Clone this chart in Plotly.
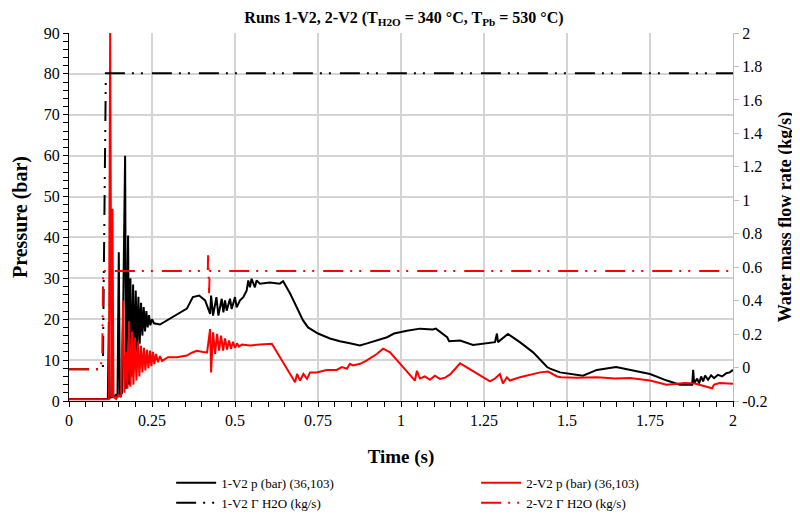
import plotly.graph_objects as go

# ---- Run 1-V2 pressure (bar) ----
t_p1 = [0.000, 0.117, 0.120, 0.123, 0.135, 0.141, 0.146, 0.150, 0.153, 0.160,
        0.169, 0.172, 0.178, 0.181, 0.185, 0.189, 0.193, 0.197, 0.201, 0.205,
        0.209, 0.213, 0.217, 0.221, 0.225, 0.229, 0.233, 0.237, 0.241, 0.245,
        0.250, 0.256, 0.274, 0.304, 0.334, 0.355, 0.373, 0.392, 0.410, 0.419,
        0.425, 0.428, 0.434, 0.444, 0.450, 0.460, 0.465, 0.470, 0.475, 0.485,
        0.490, 0.500, 0.505, 0.515, 0.525, 0.535, 0.540, 0.545, 0.550, 0.560,
        0.565, 0.575, 0.605, 0.635, 0.645, 0.666, 0.687, 0.705, 0.720, 0.750,
        0.786, 0.816, 0.846, 0.876, 0.898, 0.928, 0.958, 0.979, 1.018, 1.057,
        1.096, 1.105, 1.139, 1.145, 1.178, 1.217, 1.247, 1.283, 1.289, 1.292,
        1.322, 1.358, 1.398, 1.440, 1.449, 1.479, 1.548, 1.590, 1.648, 1.687,
        1.750, 1.801, 1.840, 1.877, 1.880, 1.883, 1.892, 1.898, 1.904, 1.910,
        1.916, 1.925, 1.934, 1.943, 1.955, 1.967, 1.980, 1.990, 2.000]
p1 = [0.5, 0.5, 19.3, 0.8, 1.0, 1.5, 0.8, 36.4, 1.0, 2.0,
      60.0, 3.0, 40.5, 4.0, 30.0, 6.0, 28.5, 9.0, 27.0, 12.0,
      25.5, 14.0, 24.0, 16.0, 23.0, 17.0, 22.0, 18.0, 21.0, 18.5,
      20.0, 19.0, 18.7, 20.2, 21.7, 22.6, 25.4, 25.8, 24.6, 22.6,
      21.3, 25.8, 20.9, 25.4, 20.9, 25.0, 21.7, 24.6, 22.1, 25.0,
      22.5, 25.4, 22.9, 24.6, 25.4, 27.0, 29.5, 27.8, 29.9, 27.8,
      29.5, 28.7, 29.0, 28.7, 29.3, 26.3, 22.6, 19.7, 18.0, 16.5,
      15.3, 14.6, 14.1, 13.6, 14.1, 14.8, 15.6, 16.5, 17.2, 17.7,
      17.5, 17.7, 15.6, 14.6, 14.8, 13.7, 14.1, 14.4, 16.5, 14.4,
      16.4, 14.4, 11.9, 8.3, 7.9, 7.0, 6.2, 7.6, 8.3, 7.7,
      6.6, 5.0, 4.0, 4.0, 7.6, 4.3, 5.5, 4.3, 6.0, 4.8,
      6.2, 5.2, 6.3, 5.6, 6.4, 6.0, 6.8, 7.0, 7.6]

# ---- Run 2-V2 pressure (bar) ----
t_p2 = [0.000, 0.120, 0.124, 0.128, 0.131, 0.134, 0.142, 0.148, 0.157, 0.163,
        0.167, 0.172, 0.176, 0.181, 0.185, 0.190, 0.194, 0.199, 0.203, 0.208,
        0.212, 0.217, 0.221, 0.226, 0.230, 0.235, 0.239, 0.244, 0.248, 0.253,
        0.257, 0.262, 0.268, 0.274, 0.280, 0.298, 0.325, 0.355, 0.370, 0.385,
        0.404, 0.416, 0.425, 0.428, 0.434, 0.440, 0.446, 0.452, 0.458, 0.464,
        0.470, 0.476, 0.482, 0.488, 0.494, 0.500, 0.506, 0.512, 0.521, 0.545,
        0.575, 0.605, 0.611, 0.681, 0.687, 0.696, 0.706, 0.717, 0.726, 0.746,
        0.776, 0.806, 0.822, 0.837, 0.846, 0.855, 0.877, 0.896, 0.927, 0.946,
        0.967, 1.042, 1.048, 1.057, 1.072, 1.087, 1.102, 1.117, 1.133, 1.148,
        1.178, 1.268, 1.283, 1.298, 1.307, 1.319, 1.328, 1.358, 1.419, 1.443,
        1.470, 1.482, 1.530, 1.590, 1.645, 1.690, 1.750, 1.800, 1.855, 1.885,
        1.937, 1.943, 1.960, 2.000]
p2 = [0.4, 0.4, 92.0, 1.0, 47.0, 1.0, 0.5, 1.5, 1.0, 24.6,
      2.0, 12.0, 3.0, 19.5, 3.5, 17.0, 4.0, 15.5, 5.0, 14.5,
      6.0, 13.5, 7.0, 13.0, 7.5, 12.5, 8.0, 12.3, 8.5, 12.0,
      9.0, 11.5, 9.5, 11.0, 9.8, 10.7, 10.7, 11.1, 11.8, 12.3,
      12.0, 11.9, 17.6, 7.0, 16.8, 11.5, 16.4, 12.3, 16.0, 12.3,
      15.3, 12.6, 14.8, 12.8, 14.5, 13.0, 14.1, 13.3, 13.8, 13.6,
      13.8, 14.1, 14.0, 4.6, 6.6, 5.0, 6.6, 5.4, 7.0, 7.0,
      7.6, 7.6, 8.3, 7.9, 9.1, 8.7, 9.1, 9.9, 11.5, 12.8,
      11.9, 5.0, 7.4, 5.5, 6.0, 5.2, 6.2, 5.4, 5.7, 6.5,
      9.2, 4.8, 5.5, 6.6, 4.3, 5.8, 5.0, 5.8, 7.0, 7.2,
      6.0, 5.8, 5.7, 5.8, 5.5, 5.6, 5.0, 4.0, 4.4, 4.3,
      3.1, 4.0, 4.4, 4.2]

# ---- Water mass flow rate (kg/s) ----
t_g1 = [0.000, 0.102, 0.111, 2.000]
g1 = [-0.01, -0.01, 1.76, 1.76]
t_g2 = [0.000, 0.093, 0.100, 0.103, 0.418, 0.419, 0.422, 0.424, 2.000]
g2 = [-0.01, -0.01, 0.05, 0.577, 0.577, 0.671, 0.445, 0.577, 0.577]

names = ["1-V2 p (bar) (36,103)", "2-V2 p (bar) (36,103)",
         "1-V2 \u0393 H2O (kg/s)", "2-V2 \u0393 H2O (kg/s)"]

x_ticks = [0, 0.25, 0.5, 0.75, 1, 1.25, 1.5, 1.75, 2]
x_labels = ["0", "0.25", "0.5", "0.75", "1", "1.25", "1.5", "1.75", "2"]
y_ticks = [0, 10, 20, 30, 40, 50, 60, 70, 80, 90]
y2_ticks = [-0.2, 0, 0.2, 0.4, 0.6, 0.8, 1, 1.2, 1.4, 1.6, 1.8, 2]
y2_labels = ["-0.2", "0", "0.2", "0.4", "0.6", "0.8", "1", "1.2", "1.4", "1.6", "1.8", "2"]

FONT = "Palatino Linotype, Book Antiqua, Palatino, Liberation Serif, serif"
dashdotdot = "20px,7px,2px,7px,2px,9px"
GRID = "#d4d4d4"

fig = go.Figure()
fig.add_trace(go.Scatter(x=t_p1, y=p1, mode="lines", name=names[0], legendrank=1,
                         line=dict(color="black", width=2)))
fig.add_trace(go.Scatter(x=t_g1, y=g1, mode="lines", name=names[2], legendrank=3,
                         yaxis="y2", line=dict(color="black", width=2, dash=dashdotdot)))
fig.add_trace(go.Scatter(x=t_p2, y=p2, mode="lines", name=names[1], legendrank=2,
                         line=dict(color="#ff0000", width=2)))
fig.add_trace(go.Scatter(x=t_g2, y=g2, mode="lines", name=names[3], legendrank=4,
                         yaxis="y2", line=dict(color="#ff0000", width=2, dash=dashdotdot)))

fig.update_layout(
    width=792, height=507,
    margin=dict(l=61, r=67, t=25, b=114, autoexpand=False),
    paper_bgcolor="white", plot_bgcolor="white",
    font=dict(family=FONT, size=16, color="black"),
    title=dict(text="<b>Runs 1-V2, 2-V2 (T<sub>H2O</sub> = 340 \u00b0C, T<sub>Pb</sub> = 530 \u00b0C)</b>",
               x=0.5, xanchor="center", y=0.982, yanchor="middle",
               font=dict(family=FONT, size=16, color="black")),
    xaxis=dict(range=[0, 2], tickvals=x_ticks, ticktext=x_labels, automargin=False,
               showgrid=True, gridcolor=GRID, gridwidth=1.5,
               showline=True, linecolor="black", linewidth=1,
               ticks="outside", ticklen=5, tickcolor="black",
               minor=dict(dtick=0.05, ticks="outside", ticklen=5, tickcolor="black", showgrid=False),
               zeroline=False,
               title=dict(text="<b>Time (s)</b>", font=dict(size=19), standoff=31)),
    yaxis=dict(range=[0, 90], tickvals=y_ticks, automargin=False,
               showgrid=True, gridcolor=GRID, gridwidth=1.5,
               showline=True, linecolor="black", linewidth=1,
               ticks="outside", ticklen=5, tickcolor="black",
               minor=dict(dtick=2, ticks="outside", ticklen=5, tickcolor="black", showgrid=False),
               zeroline=False,
               title=dict(text="<b>Pressure (bar)</b>", font=dict(size=20), standoff=10)),
    yaxis2=dict(range=[-0.2, 2], tickvals=y2_ticks, ticktext=y2_labels, automargin=False,
                overlaying="y", side="right", showgrid=False, zeroline=False,
                showline=True, linecolor="#bfbfbf", linewidth=1,
                ticks="outside", ticklen=5, tickcolor="#bfbfbf",
                title=dict(text="<b>Water mass flow rate (kg/s)</b>", font=dict(size=18), standoff=11)),
    legend=dict(orientation="h", xref="container", yref="container",
                x=0.206, xanchor="left", y=0.093, yanchor="top",
                entrywidth=250, entrywidthmode="pixels", traceorder="normal",
                font=dict(family=FONT, size=13), itemwidth=40,
                bgcolor="rgba(0,0,0,0)"),
    showlegend=True,
)

fig.write_html("out.html")
